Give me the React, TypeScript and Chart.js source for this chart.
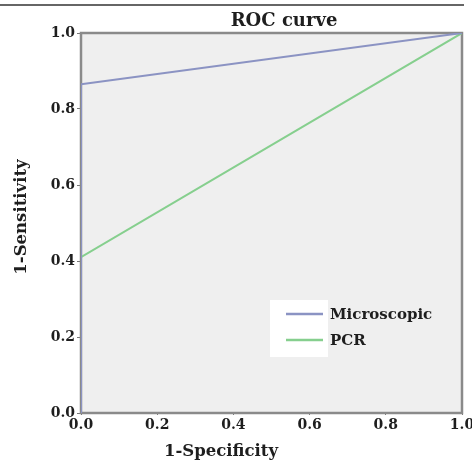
import React, { useEffect, useRef } from "react";
import { Chart, registerables } from "chart.js";

Chart.register(...registerables);

const microscopicX = [0, 0, 1];
const microscopicY = [0, 0.865, 1];
const pcrX = [0, 0, 1];
const pcrY = [0, 0.41, 1];
const tickValues = [0, 0.2, 0.4, 0.6, 0.8, 1.0];
const seriesNames = ["Microscopic", "PCR"];
const chartTitle = "ROC curve";
const xTitle = "1-Specificity";
const yTitle = "1-Sensitivity";

const FONT = "'DejaVu Serif', 'Liberation Serif', serif";
const BLUE = "#8b93c3";
const GREEN = "#86cf8e";
const TEXT = "#1e1e1e";

export default function App() {
  const ref = useRef<HTMLCanvasElement | null>(null);
  useEffect(() => {
    document.body.style.margin = "0";
    const canvas = ref.current!;
    const decor = {
      id: "decor",
      beforeDatasetsDraw(chart: any) {
        const { ctx, chartArea: a } = chart;
        ctx.save();
        ctx.fillStyle = "#efefef";
        ctx.fillRect(a.left, a.top, a.right - a.left, a.bottom - a.top);
        ctx.strokeStyle = "#8a8a8a";
        ctx.lineWidth = 2.5;
        ctx.strokeRect(a.left, a.top, a.right - a.left, a.bottom - a.top);
        ctx.restore();
      },
      afterDraw(chart: any) {
        const { ctx } = chart;
        ctx.save();
        // top rule
        ctx.strokeStyle = "#333";
        ctx.lineWidth = 1.5;
        ctx.beginPath();
        ctx.moveTo(0, 5);
        ctx.lineTo(464, 5);
        ctx.stroke();
        // title
        ctx.fillStyle = TEXT;
        ctx.font = `bold 18px ${FONT}`;
        ctx.textAlign = "center";
        ctx.textBaseline = "middle";
        ctx.fillText(chartTitle, 284, 21);
        // axis titles
        ctx.font = `bold 16.5px ${FONT}`;
        ctx.fillText(xTitle, 221, 452);
        ctx.save();
        ctx.translate(22, 217);
        ctx.rotate(-Math.PI / 2);
        ctx.fillText(yTitle, 0, 0);
        ctx.restore();
        // legend
        ctx.fillStyle = "#ffffff";
        ctx.fillRect(270, 300, 58, 57);
        const colors = [BLUE, GREEN];
        const ys = [314, 340];
        ctx.font = `bold 15px ${FONT}`;
        ctx.textAlign = "left";
        for (let i = 0; i < seriesNames.length; i++) {
          ctx.strokeStyle = colors[i];
          ctx.lineWidth = 2.5;
          ctx.beginPath();
          ctx.moveTo(286, ys[i]);
          ctx.lineTo(323, ys[i]);
          ctx.stroke();
          ctx.fillStyle = TEXT;
          ctx.fillText(seriesNames[i], 330, ys[i] + 1);
        }
        ctx.restore();
      },
    };
    const chart = new Chart(canvas, {
      type: "scatter",
      data: {
        datasets: [
          {
            label: seriesNames[0],
            data: microscopicX.map((x, i) => ({ x, y: microscopicY[i] })),
            borderColor: BLUE,
            borderWidth: 2,
            showLine: true,
            pointRadius: 0,
          },
          {
            label: seriesNames[1],
            data: pcrX.map((x, i) => ({ x, y: pcrY[i] })),
            borderColor: GREEN,
            borderWidth: 2,
            showLine: true,
            pointRadius: 0,
          },
        ],
      },
      options: {
        animation: false,
        responsive: false,
        layout: { padding: { top: 33, right: 10, left: 0, bottom: 0 } },
        plugins: { legend: { display: false }, tooltip: { enabled: false } },
        scales: {
          x: {
            type: "linear",
            min: 0,
            max: 1,
            afterFit(s: any) { s.height = 54; s.paddingRight = 0; s.paddingLeft = 0; },
            afterBuildTicks(s: any) { s.ticks = tickValues.map((v) => ({ value: v })); },
            grid: { drawOnChartArea: false, drawTicks: true, tickLength: 2, color: "#777" },
            border: { display: false },
            ticks: {
              color: TEXT,
              font: { family: FONT, size: 14, weight: "bold" },
              padding: 2,
              maxRotation: 0,
              autoSkip: false,
              callback: (v: any) => Number(v).toFixed(1),
            },
            title: { display: false },
          },
          y: {
            type: "linear",
            min: 0,
            max: 1,
            afterFit(s: any) { s.width = 81; s.paddingTop = 0; s.paddingBottom = 0; },
            afterBuildTicks(s: any) { s.ticks = tickValues.map((v) => ({ value: v })); },
            grid: { drawOnChartArea: false, drawTicks: true, tickLength: 4, color: "#777" },
            border: { display: false },
            ticks: {
              color: TEXT,
              font: { family: FONT, size: 14, weight: "bold" },
              padding: 2,
              autoSkip: false,
              callback: (v: any) => Number(v).toFixed(1),
            },
            title: { display: false },
          },
        },
      },
      plugins: [decor],
    });
    return () => chart.destroy();
  }, []);
  return (
    <div style={{ position: "absolute", left: 0, top: 0, width: 472, height: 467 }}>
      <canvas ref={ref} width={472} height={467} style={{ width: 472, height: 467 }} />
    </div>
  );
}
